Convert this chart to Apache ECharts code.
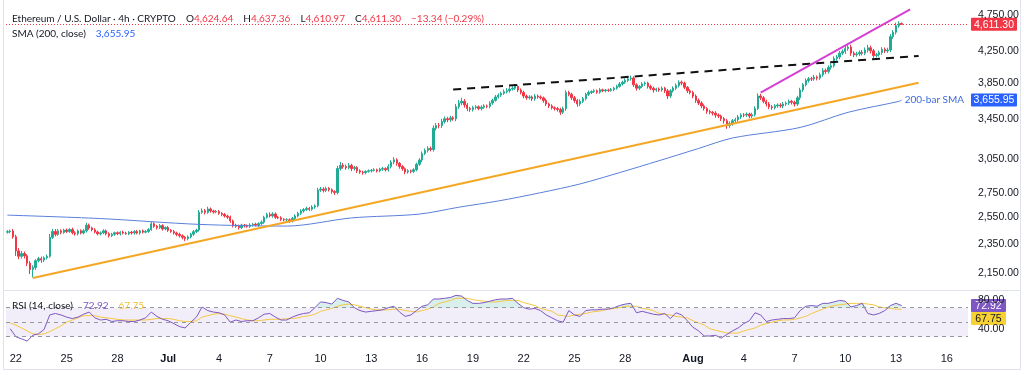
<!DOCTYPE html>
<html>
<head>
<meta charset="utf-8">
<script src="https://cdn.jsdelivr.net/npm/echarts@6/dist/echarts.min.js"></script>
<style>
html, body { margin: 0; padding: 0; background: #fff; }
#chart { width: 1024px; height: 377px; }
</style>
</head>
<body>
<div id="chart"></div>
<script>
// ETH/USD 4h candles, first bar Jun 21 12:00 UTC, last bar Aug 13 08:00
// closes, one line per day (00,04,08,12,16,20)
var firstOpen = 2436;
var closes = [
    2440, 2445, 2402,                       // Jun 21 (12-20h)
    2300, 2262, 2281, 2265, 2215, 2172,     // Jun 22
    2185, 2232, 2246, 2236, 2252, 2262,
    2398, 2441, 2420, 2446, 2434, 2452,
    2441, 2456, 2431, 2424, 2446, 2430,
    2446, 2489, 2468, 2454, 2438, 2424,
    2431, 2446, 2424, 2410, 2421, 2432,
    2424, 2436, 2429, 2424, 2436, 2430,
    2441, 2430, 2446, 2436, 2441, 2456,
    2500, 2481, 2470, 2486, 2460, 2471,     // Jun 30
    2450, 2441, 2430, 2420, 2409, 2398,     // Jul 1
    2388, 2401, 2421, 2440, 2452, 2590,
    2601, 2588, 2616, 2600, 2591, 2596,
    2581, 2572, 2560, 2551, 2522, 2490,
    2481, 2470, 2490, 2484, 2480, 2491,
    2496, 2489, 2501, 2512, 2550, 2571,
    2561, 2576, 2550, 2546, 2534, 2530,
    2531, 2520, 2541, 2560, 2581, 2600,
    2611, 2620, 2614, 2631, 2641, 2772,
    2781, 2770, 2786, 2775, 2760, 2751,     // Jul 10
    2962, 2991, 2980, 2969, 2990, 2961,
    2971, 2941, 2930, 2924, 2936, 2941,
    2946, 2951, 2940, 2956, 2961, 2950,
    2981, 3021, 3042, 3010, 2980, 2960,
    2931, 2941, 2936, 2951, 3001, 3040,
    3101, 3131, 3150, 3140, 3352, 3381,
    3380, 3421, 3451, 3440, 3461, 3450,
    3581, 3622, 3641, 3601, 3561, 3550,
    3571, 3580, 3561, 3576, 3590, 3585,
    3621, 3652, 3690, 3711, 3731, 3750,     // Jul 20
    3761, 3781, 3790, 3811, 3770, 3741,
    3700, 3681, 3690, 3670, 3700, 3690,
    3680, 3651, 3611, 3590, 3570, 3561,
    3550, 3521, 3560, 3741, 3720, 3681,
    3650, 3611, 3641, 3670, 3720, 3741,
    3751, 3760, 3745, 3771, 3760, 3770,
    3765, 3775, 3791, 3811, 3840, 3861,
    3881, 3901, 3911, 3830, 3791, 3811,
    3841, 3851, 3811, 3790, 3770, 3781,
    3770, 3791, 3760, 3701, 3760, 3791,     // Jul 30
    3821, 3861, 3850, 3801, 3760, 3741,
    3700, 3651, 3621, 3590, 3561, 3530,     // Aug 1
    3520, 3511, 3490, 3480, 3451, 3430,
    3381, 3401, 3430, 3441, 3470, 3491,
    3490, 3501, 3480, 3495, 3561, 3701,
    3680, 3641, 3611, 3580, 3570, 3591,
    3600, 3590, 3611, 3621, 3641, 3630,
    3611, 3681, 3770, 3831, 3881, 3901,
    3900, 3921, 3910, 3951, 4001, 3990,
    4041, 4061, 4151, 4171, 4221, 4241,
    4281, 4301, 4221, 4200, 4211, 4231,     // Aug 10
    4220, 4261, 4291, 4251, 4190, 4201,
    4230, 4271, 4250, 4262, 4440, 4501,
    4590, 4624.64, 4611.30                  // Aug 13 (00-08h)
];
// wick above the body / below the body, same layout
var upWick = [
    12, 10, 15,
    15, 20, 18, 15, 12, 14,
    15, 10, 12, 14, 10, 12,
    25, 20, 18, 14, 12, 10,
    12, 10, 14, 12, 10, 12,
    14, 18, 12, 10, 12, 10,
    10, 12, 10, 12, 10, 8,
    10, 8, 12, 10, 8, 10,
    10, 12, 8, 10, 12, 10,
    14, 12, 10, 12, 10, 8,
    12, 10, 12, 10, 12, 10,
    10, 12, 10, 12, 10, 18,
    20, 15, 18, 12, 10, 12,
    12, 10, 12, 10, 12, 10,
    10, 12, 10, 8, 10, 12,
    10, 12, 10, 14, 12, 15,
    18, 14, 12, 10, 12, 10,
    12, 10, 12, 14, 12, 14,
    12, 14, 12, 15, 12, 20,
    18, 15, 14, 12, 12, 10,
    25, 30, 20, 18, 22, 15,
    15, 12, 14, 12, 10, 12,
    12, 14, 10, 12, 15, 12,
    20, 18, 25, 15, 12, 14,
    12, 15, 12, 14, 15, 18,
    20, 18, 22, 20, 30, 25,
    25, 30, 25, 20, 22, 18,
    30, 35, 40, 25, 20, 18,
    20, 18, 15, 20, 18, 15,
    20, 18, 22, 20, 18, 25,
    30, 25, 22, 28, 20, 18,
    20, 18, 20, 15, 22, 18,
    18, 15, 20, 15, 18, 15,
    18, 20, 22, 25, 20, 18,
    20, 18, 22, 20, 18, 22,
    15, 18, 15, 20, 15, 12,
    15, 18, 15, 20, 22, 18,
    25, 22, 30, 20, 18, 15,
    20, 18, 15, 20, 18, 15,
    18, 20, 15, 22, 18, 20,
    25, 22, 20, 18, 15, 18,
    20, 18, 22, 20, 18, 15,
    18, 15, 20, 18, 15, 18,
    20, 22, 18, 20, 22, 18,
    20, 18, 15, 20, 25, 30,
    25, 20, 18, 22, 20, 18,
    18, 20, 22, 18, 20, 15,
    18, 22, 25, 20, 25, 22,
    25, 28, 20, 25, 30, 22,
    25, 30, 28, 25, 30, 28,
    40, 35, 30, 25, 28, 25,
    30, 35, 40, 28, 25, 22,
    25, 28, 25, 30, 35, 30,
    45, 30, 12.72
];
var downWick = [
    10, 12, 14,
    35, 20, 15, 18, 20, 30,
    52, 15, 12, 18, 14, 12,
    10, 12, 15, 12, 14, 10,
    12, 10, 12, 14, 12, 10,
    10, 12, 14, 12, 10, 12,
    12, 10, 12, 14, 10, 12,
    10, 12, 10, 8, 10, 12,
    12, 10, 12, 10, 8, 10,
    10, 12, 14, 10, 12, 10,
    12, 10, 12, 14, 12, 15,
    18, 12, 10, 12, 10, 12,
    12, 15, 10, 14, 12, 10,
    12, 14, 12, 14, 15, 18,
    12, 14, 10, 12, 10, 12,
    12, 10, 12, 10, 12, 10,
    12, 14, 12, 10, 14, 12,
    12, 14, 10, 12, 10, 12,
    14, 12, 15, 12, 14, 12,
    15, 18, 14, 15, 18, 20,
    15, 18, 20, 18, 15, 22,
    18, 20, 15, 18, 14, 12,
    15, 12, 14, 12, 15, 14,
    15, 18, 20, 22, 20, 18,
    20, 15, 18, 15, 14, 15,
    18, 15, 20, 18, 20, 22,
    30, 25, 20, 25, 22, 20,
    25, 22, 25, 30, 28, 25,
    22, 20, 18, 20, 18, 20,
    20, 18, 15, 18, 20, 18,
    20, 22, 18, 20, 25, 22,
    25, 22, 20, 25, 22, 20,
    20, 25, 22, 25, 20, 22,
    22, 30, 20, 25, 22, 25,
    25, 30, 22, 20, 18, 20,
    18, 15, 20, 18, 15, 18,
    18, 15, 20, 18, 15, 18,
    20, 18, 22, 25, 28, 22,
    20, 22, 25, 22, 30, 22,
    22, 20, 25, 35, 22, 20,
    20, 22, 25, 22, 25, 22,
    25, 28, 22, 25, 22, 25,
    22, 25, 28, 22, 25, 30,
    35, 25, 22, 20, 22, 20,
    22, 20, 25, 22, 20, 18,
    25, 22, 28, 25, 22, 20,
    22, 20, 25, 22, 20, 25,
    28, 22, 25, 22, 20, 25,
    25, 22, 28, 22, 25, 30,
    25, 28, 22, 25, 28, 25,
    30, 28, 35, 30, 25, 28,
    28, 25, 30, 35, 30, 25,
    25, 30, 28, 25, 28, 30,
    30, 25, 0.33
];

// SMA(200) read at a few points along the curve: [time 'M-D H', value]
var smaPoints = [
    ['6-21 12', 2567], ['6-27 0', 2540], ['7-2 20', 2495], ['7-8 0', 2482],
    ['7-11 20', 2545], ['7-15 20', 2575], ['7-18 4', 2630], ['7-20 12', 2681],
    ['7-23 0', 2750], ['7-25 8', 2825], ['7-27 16', 2925], ['7-30 0', 3034],
    ['8-1 8', 3150], ['8-3 8', 3253], ['8-7 8', 3360], ['8-10 4', 3520],
    ['8-13 4', 3640], ['8-13 8', 3655.95]
];

// drawn trend lines: start / end [time, price]
var supportLine = [['6-23 0', 2116], ['8-14 8', 3854]];
var resistLine  = [['7-17 20', 3775], ['8-14 8', 4185]];
var channelTop  = [['8-5 0', 3738], ['8-13 20', 4830]];

// RSI(14) and its MA, one value every 8h starting Jun 21 16:00
var rsi = [
    41,
    30, 27, 24,  32, 34, 40,  60, 62, 60,  57, 55, 57,  61, 64, 56,
    53, 54, 51,  52, 52, 51,  51, 53, 56,  64, 58, 54,                 // -> Jun 30
    52, 48, 44,  42, 50, 57,  71, 66, 64,  63, 60, 50,  53, 51, 52,
    52, 56, 61,  62, 57, 53,  53, 57, 60,  62, 63, 70,  78, 77, 75,    // -> Jul 10
    83, 80, 78,  70, 66, 64,  65, 66, 67,  70, 72, 64,  58, 60, 66,
    72, 74, 82,  82, 83, 84,  87, 86, 80,  76, 76, 77,  79, 81, 82,    // -> Jul 20
    82, 83, 76,  70, 68, 69,  66, 60, 56,  52, 50, 66,  60, 58, 66,
    67, 67, 68,  68, 70, 73,  75, 76, 63,  65, 63, 61,  60, 62, 55,    // -> Jul 30
    63, 60, 52,
    43, 38, 31,  31, 32, 28,  33, 38, 42,  48, 52, 63,  60, 51, 53,
    54, 55, 55,  56, 66, 72,  73, 72, 76,  76, 78, 80,  79, 71, 73,    // -> Aug 10
    76, 62, 60,  62, 66, 73,
    76, 72.92
];
var rsiMa = [
    49,
    46, 42, 38,  34, 33, 34,  37, 41, 45,  50, 53, 56,  59, 59, 59,
    57, 56, 55,  54, 53, 53,  53, 53, 53,  54, 55, 55,
    55, 54, 52,  51, 51, 52,  57, 59, 61,  62, 61, 59,  57, 55, 53,
    52, 52, 53,  54, 54, 54,  55, 55, 56,  58, 59, 61,  65, 67, 69,
    72, 74, 75,  74, 72, 70,  68, 67, 67,  67, 68, 68,  66, 65, 64,
    66, 68, 71,  76, 78, 80,  83, 83, 83,  81, 80, 79,  78, 78, 79,
    80, 80, 80,  77, 75, 73,  69, 67, 65,  60, 59, 58,  60, 61, 62,
    64, 65, 66,  68, 69, 70,  72, 72, 72,  69, 68, 66,  62, 61, 60,
    58, 57, 56,
    52, 49, 46,  41, 39, 37,  35, 35, 35,  38, 40, 42,  46, 48, 50,
    52, 53, 53,  54, 56, 58,  62, 65, 68,  71, 73, 74,  75, 76, 76,
    76, 75, 74,  71, 70, 69,
    68, 67.75
];

var priceTicks = [2150, 2350, 2550, 2750, 3050, 3450, 3850, 4250, 4750];
var rsiTicks = [40, 80];
var rsiLevels = [70, 50, 30];
var monthNames = ['Jan', 'Feb', 'Mar', 'Apr', 'May', 'Jun', 'Jul', 'Aug', 'Sep', 'Oct', 'Nov', 'Dec'];
var dateLabelDays = { 6: [22, 25, 28], 7: [1, 4, 7, 10, 13, 16, 19, 22, 25, 28], 8: [1, 4, 7, 10, 13, 16] };

var UP = '#22ab94', DOWN = '#f23645';
var FONT = '"Liberation Sans", Arial, sans-serif';
var HEAD_FONT = 'Lato, "Liberation Sans", sans-serif';

// time axis: 4h slots, including empty space on the right
var H4 = 4 * 3600 * 1000;
var t0 = Date.UTC(2025, 5, 21, 12);
var slotCount = 341;
var slots = [];
for (var i = 0; i < slotCount; i++) slots.push(new Date(t0 + i * H4));
var catNames = slots.map(function (d) { return d.toISOString().slice(0, 16); });

function slotOf(s) {
    var p = s.split(' '), md = p[0].split('-');
    return Math.round((Date.UTC(2025, +md[0] - 1, +md[1], +p[1]) - t0) / H4);
}
function fmt(v) {
    return v.toLocaleString('en-US', { minimumFractionDigits: 2, maximumFractionDigits: 2 });
}

var candles = [];
for (var i = 0; i < closes.length; i++) {
    var o = i === 0 ? firstOpen : closes[i - 1];
    var c = closes[i];
    candles.push([o, c, Math.min(o, c) - downWick[i], Math.max(o, c) + upWick[i]]);
}
var last = candles[candles.length - 1];
var chg = last[1] - last[0];
var chgPct = chg / last[0] * 100;
var signed = function (v) { return (v < 0 ? '\u2212' : '+') + fmt(Math.abs(v)); };

var smaData = smaPoints.map(function (p) { return [slotOf(p[0]), p[1]]; });
var toLine = function (pts) { return pts.map(function (p) { return [slotOf(p[0]), p[1]]; }); };
var rsiData = rsi.map(function (v, j) { return [1 + 2 * j, v]; });
var rsiMaData = rsiMa.map(function (v, j) { return [1 + 2 * j, v]; });
// overbought fill: part of the RSI above the 70 level, stacked on a 70 base
var obBase = rsi.map(function (v, j) { return [1 + 2 * j, 70]; });
var obFill = rsi.map(function (v, j) { return [1 + 2 * j, Math.max(v - 70, 0)]; });

var chart = echarts.init(document.getElementById('chart'));

var txt = function (color) { return { fontSize: 10, color: color, fontFamily: HEAD_FONT, fontWeight: 'normal' }; };

var option = {
    animation: false,
    backgroundColor: '#ffffff',
    textStyle: { fontFamily: FONT },
    title: [
        {
            left: 12, top: 10, padding: 0,
            text: '{n|Ethereum / U.S. Dollar \u00b7 4h \u00b7 CRYPTO}  {n|O}{v|' + fmt(last[0]) + '}  {n|H}{v|' + fmt(last[3]) +
                '}  {n|L}{v|' + fmt(last[2]) + '}  {n|C}{v|' + fmt(last[1]) + '}  {v|' + signed(chg) + ' (' + signed(chgPct) + '%)}',
            textStyle: { fontWeight: 'normal', rich: { n: txt('#131722'), v: txt(DOWN) } }
        },
        {
            left: 12, top: 25, padding: 0,
            text: '{n|SMA (200, close)}  {b|' + fmt(smaPoints[smaPoints.length - 1][1]) + '}',
            textStyle: { fontWeight: 'normal', rich: { n: txt('#131722'), b: txt('#2962ff') } }
        },
        {
            left: 12, top: 297, padding: 0,
            text: '{n|RSI (14, close)}  {p|' + fmt(rsi[rsi.length - 1]) + '}  {y|' + fmt(rsiMa[rsiMa.length - 1]) + '}',
            textStyle: { fontWeight: 'normal', rich: { n: txt('#131722'), p: txt('#7e57c2'), y: txt('#f2c230') } }
        }
    ],
    grid: [
        { left: 6, right: 56, top: 0, height: 290 },
        { left: 6, right: 56, top: 290, height: 55 }
    ],
    xAxis: [
        {
            type: 'category', gridIndex: 0, data: catNames, boundaryGap: true,
            axisLine: { show: false }, axisTick: { show: false }, axisLabel: { show: false }, splitLine: { show: false }
        },
        {
            type: 'category', gridIndex: 1, data: catNames, boundaryGap: true,
            axisLine: { show: false }, axisTick: { show: false }, splitLine: { show: false },
            axisLabel: {
                margin: 8, fontSize: 11, color: '#131722', fontFamily: FONT,
                interval: function (idx) {
                    var d = slots[idx];
                    if (!d || d.getUTCHours() !== 0) return false;
                    var days = dateLabelDays[d.getUTCMonth() + 1];
                    return !!days && days.indexOf(d.getUTCDate()) >= 0;
                },
                formatter: function (val, idx) {
                    var d = slots[idx];
                    if (d.getUTCDate() === 1) return '{m|' + monthNames[d.getUTCMonth()] + '}';
                    return String(d.getUTCDate());
                },
                rich: { m: { fontSize: 11, fontWeight: 'bold', color: '#131722', fontFamily: FONT } }
            }
        }
    ],
    yAxis: [
        {
            type: 'log', gridIndex: 0, position: 'right', min: 2039.7, max: 4969.5,
            axisLine: { show: false }, axisTick: { show: false }, splitLine: { show: false },
            axisLabel: { customValues: priceTicks, formatter: fmt, color: '#131722', fontSize: 10.5, margin: 10, fontFamily: FONT }
        },
        {
            type: 'value', gridIndex: 1, position: 'right', min: 18.55, max: 94.41,
            axisLine: { show: false }, axisTick: { show: false }, splitLine: { show: false },
            axisLabel: { customValues: rsiTicks, formatter: fmt, color: '#131722', fontSize: 10.5, margin: 10, fontFamily: FONT }
        }
    ],
    series: [
        {
            name: 'ETHUSD', type: 'candlestick', xAxisIndex: 0, yAxisIndex: 0, data: candles,
            barWidth: '68%',
            itemStyle: { color: UP, color0: DOWN, borderColor: UP, borderColor0: DOWN, borderWidth: 1 },
            markLine: {
                silent: true, symbol: ['none', 'none'], label: { show: false },
                lineStyle: { color: DOWN, type: [1, 2], width: 1 },
                data: [{ yAxis: last[1] }]
            }
        },
        {
            name: 'SMA 200', type: 'line', xAxisIndex: 0, yAxisIndex: 0, data: smaData,
            showSymbol: false, smooth: 0.3, lineStyle: { color: '#5a7fdb', width: 1 },
            endLabel: { show: true, formatter: '200-bar SMA', color: '#3e6ad8', fontSize: 10, distance: 3, fontFamily: HEAD_FONT }
        },
        {
            name: 'support', type: 'line', xAxisIndex: 0, yAxisIndex: 0, data: toLine(supportLine),
            showSymbol: false, lineStyle: { color: '#f5a623', width: 2 }
        },
        {
            name: 'resistance', type: 'line', xAxisIndex: 0, yAxisIndex: 0, data: toLine(resistLine),
            showSymbol: false, lineStyle: { color: '#111111', width: 2, type: [8, 6] }
        },
        {
            name: 'channel', type: 'line', xAxisIndex: 0, yAxisIndex: 0, data: toLine(channelTop),
            showSymbol: false, lineStyle: { color: '#d63fd6', width: 2 }
        },
        {
            name: 'ob base', type: 'line', xAxisIndex: 1, yAxisIndex: 1, data: obBase, stack: 'ob', z: 1,
            showSymbol: false, silent: true, lineStyle: { width: 0, opacity: 0 }
        },
        {
            name: 'ob fill', type: 'line', xAxisIndex: 1, yAxisIndex: 1, data: obFill, stack: 'ob', z: 1,
            showSymbol: false, silent: true, lineStyle: { width: 0, opacity: 0 },
            areaStyle: { color: 'rgba(8,153,129,0.22)' }
        },
        {
            name: 'RSI MA', type: 'line', xAxisIndex: 1, yAxisIndex: 1, data: rsiMaData, z: 3,
            showSymbol: false, lineStyle: { color: '#f5c842', width: 1 }
        },
        {
            name: 'RSI', type: 'line', xAxisIndex: 1, yAxisIndex: 1, data: rsiData, z: 4,
            showSymbol: false, lineStyle: { color: '#7e57c2', width: 1 },
            markLine: {
                silent: true, symbol: ['none', 'none'], label: { show: false },
                lineStyle: { color: '#9598a1', type: [4, 4], width: 1 },
                data: rsiLevels.map(function (v) { return { yAxis: v }; })
            },
            markArea: {
                silent: true, itemStyle: { color: 'rgba(126,87,194,0.1)' },
                data: [[{ yAxis: 30 }, { yAxis: 70 }]]
            }
        }
    ]
};
chart.setOption(option);

// last-value tags on the price scales
function tag(y, text, bg, fg, w) {
    return {
        type: 'group', x: 971, y: y - 6.5,
        children: [
            { type: 'rect', shape: { x: 0, y: 0, width: w, height: 13, r: 1 }, style: { fill: bg } },
            { type: 'text', x: w / 2, y: 7, style: { text: text, fill: fg, font: '10.5px ' + FONT, align: 'center', verticalAlign: 'middle' } }
        ]
    };
}
var yClose = chart.convertToPixel({ yAxisIndex: 0 }, last[1]);
var ySma = chart.convertToPixel({ yAxisIndex: 0 }, smaPoints[smaPoints.length - 1][1]);
var yRsi = chart.convertToPixel({ yAxisIndex: 1 }, rsi[rsi.length - 1]);
var yMa = Math.max(chart.convertToPixel({ yAxisIndex: 1 }, rsiMa[rsiMa.length - 1]), yRsi + 13);

chart.setOption({
    graphic: [
        { type: 'line', shape: { x1: 4, y1: 290.5, x2: 1020, y2: 290.5 }, style: { stroke: '#e0e3eb', lineWidth: 1 } },
        { type: 'rect', shape: { x: 3.5, y: -1, width: 1017, height: 370.5 }, style: { fill: 'none', stroke: '#e0e3eb', lineWidth: 1 } },
        tag(yClose, fmt(last[1]), DOWN, '#ffffff', 46),
        tag(ySma, fmt(smaPoints[smaPoints.length - 1][1]), '#2962ff', '#ffffff', 46),
        tag(yRsi, fmt(rsi[rsi.length - 1]), '#7e57c2', '#ffffff', 35),
        tag(yMa, fmt(rsiMa[rsiMa.length - 1]), '#f7d234', '#131722', 35)
    ]
});
</script>
</body>
</html>
